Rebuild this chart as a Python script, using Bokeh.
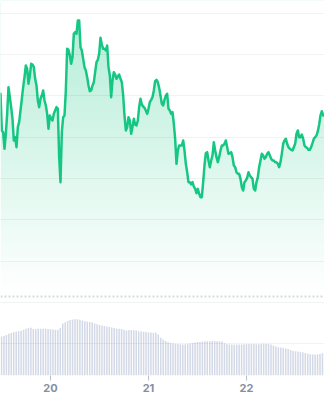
import numpy as np
from bokeh.plotting import figure
from bokeh.models import Range1d, LinearAxis, FixedTicker, Span
from bokeh.embed import file_html
from bokeh.resources import INLINE

# ---- data ----
# price series, sampled at a regular interval (days of month on x)
PRICE_START = 19.4898
PRICE_STEP = 0.013605
price = [
    842, 732, 727, 677, 722, 782, 862, 832, 802, 767,
    702, 712, 682, 742, 757, 792, 827, 862, 892, 927,
    917, 872, 897, 932, 930, 922, 887, 867, 822, 802,
    827, 837, 852, 822, 807, 782, 737, 777, 767, 762,
    782, 792, 802, 797, 652, 577, 727, 772, 777, 852,
    977, 974, 957, 932, 952, 1022, 1027, 1022, 1062, 1062,
    982, 972, 947, 922, 912, 892, 867, 850, 852, 867,
    877, 907, 937, 944, 962, 1010, 990, 977, 977, 972,
    987, 922, 897, 832, 882, 907, 900, 887, 894, 900,
    887, 877, 837, 777, 732, 742, 772, 762, 722, 742,
    767, 750, 747, 762, 802, 827, 810, 804, 800, 792,
    782, 797, 817, 824, 832, 852, 880, 884, 877, 860,
    837, 812, 807, 824, 837, 842, 797, 792, 782, 787,
    752, 707, 632, 672, 687, 687, 687, 702, 672, 632,
    607, 577, 577, 570, 577, 564, 557, 544, 557, 542,
    532, 532, 577, 627, 664, 667, 642, 622, 642, 657,
    697, 672, 652, 637, 652, 672, 687, 687, 692, 702,
    682, 662, 664, 667, 652, 627, 622, 607, 602, 602,
    587, 562, 552, 577, 582, 590, 607, 597, 592, 587,
    557, 552, 577, 592, 622, 642, 662, 657, 647, 652,
    662, 667, 657, 647, 642, 642, 637, 637, 632, 622,
    637, 662, 692, 702, 707, 692, 682, 677, 674, 672,
    682, 692, 722, 732, 712, 712, 720, 707, 687, 682,
    680, 674, 674, 682, 694, 707, 712, 717, 730, 750,
    777, 790, 777, 777,
]

VOL_START = 19.5
VOL_STEP = 0.025
volume = [
    39.0, 39.6, 40.5, 41.7, 42.5, 43.3, 43.8, 44.3, 44.8, 45.7,
    46.8, 47.6, 47.7, 46.5, 46.3, 46.7, 46.7, 46.7, 46.7, 46.6,
    46.3, 46.0, 45.7, 45.7, 47.5, 52.0, 53.2, 54.4, 55.4, 56.0,
    56.3, 56.2, 55.7, 55.0, 54.2, 53.8, 53.6, 53.3, 52.1, 51.2,
    50.5, 50.0, 49.5, 49.0, 48.5, 48.0, 47.5, 47.1, 46.8, 46.4,
    45.5, 45.0, 45.5, 45.6, 45.2, 44.9, 44.3, 44.0, 43.7, 43.4,
    43.1, 42.9, 42.7, 42.7, 41.0, 37.7, 36.0, 34.4, 33.2, 32.4,
    32.0, 31.7, 31.5, 31.2, 31.0, 31.3, 31.6, 31.9, 32.6, 33.0,
    33.2, 33.5, 34.0, 34.3, 34.3, 34.3, 34.4, 34.5, 34.3, 34.3,
    34.0, 32.3, 31.6, 31.0, 30.9, 30.7, 30.9, 31.0, 31.0, 31.2,
    31.4, 31.5, 31.5, 31.4, 31.3, 31.2, 31.6, 31.7, 31.6, 31.4,
    31.0, 30.0, 29.0, 28.2, 27.9, 27.5, 27.0, 26.4, 25.5, 24.6,
    24.2, 24.0, 23.6, 23.2, 22.4, 21.7, 21.3, 21.0, 21.0, 21.0,
    21.6, 22.3,
]

x_ticks = [20, 21, 22]
grid_levels = [1084, 960, 836, 712, 588, 464, 340, 216, 92]
baseline_level = 234

X_MIN, X_MAX = 19.4898, 22.7959
Y_MIN, Y_MAX = -3, 1122
VOL_MAX = 375

GREEN = "#16c784"

price_t = PRICE_START + PRICE_STEP * np.arange(len(price))
vol_t = VOL_START + VOL_STEP * np.arange(len(volume))

p = figure(width=324, height=400, output_backend="svg", toolbar_location=None,
           x_range=Range1d(X_MIN, X_MAX), y_range=Range1d(Y_MIN, Y_MAX),
           min_border_left=0, min_border_right=0, min_border_top=0,
           min_border_bottom=25, outline_line_color=None,
           background_fill_color="white", border_fill_color="white")
p.extra_y_ranges = {"vol": Range1d(0, VOL_MAX)}

# gradient fill below the line: gradient image, then white mask above the line
n_rows = 296
alpha = np.linspace(0.0, 0.34, n_rows)
img = np.zeros((n_rows, 1), dtype=np.uint32)
view = img.view(dtype=np.uint8).reshape((n_rows, 1, 4))
view[:, 0, 0] = 0x16
view[:, 0, 1] = 0xc7
view[:, 0, 2] = 0x84
view[:, 0, 3] = (alpha * 255).astype(np.uint8)
p.image_rgba(image=[img], x=X_MIN, y=baseline_level, dw=X_MAX - X_MIN,
             dh=Y_MAX - baseline_level)
p.varea(x=price_t, y1=price, y2=Y_MAX, fill_color="white", fill_alpha=1.0)

# volume bars
p.vbar(x=vol_t, top=volume, bottom=0, width=VOL_STEP * 0.62,
       fill_color="#d3d9e6", line_color=None, y_range_name="vol")

# price line
p.line(price_t, price, line_width=2.5, line_color=GREEN,
       line_join="round", line_cap="round")

# dotted baseline
p.add_layout(Span(location=baseline_level, dimension="width",
                  line_color="#d5d9e0", line_width=2, line_dash="2 2"))

# grid
p.xgrid.visible = False
p.ygrid.ticker = FixedTicker(ticks=grid_levels)
p.ygrid.grid_line_color = "#000000"
p.ygrid.grid_line_alpha = 0.05
p.ygrid.level = "annotation"

p.yaxis.visible = False
xa = p.xaxis[0]
xa.ticker = FixedTicker(ticks=x_ticks)
xa.axis_line_color = None
xa.major_tick_line_color = "#b9c0cc"
xa.major_tick_in = 0
xa.major_tick_out = 5
xa.minor_tick_line_color = None
xa.major_label_text_font = "Inter"
xa.major_label_text_font_style = "bold"
xa.major_label_text_font_size = "11px"
xa.major_label_text_color = "#858fa1"
xa.major_label_standoff = 3

open("out.html", "w").write(file_html(p, INLINE))
